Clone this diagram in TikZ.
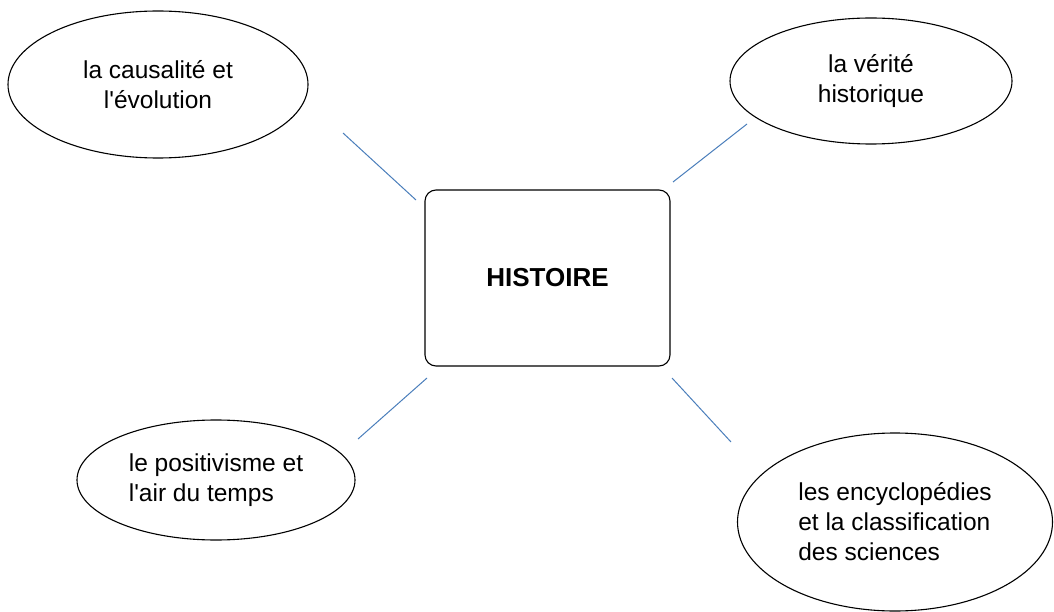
\documentclass[tikz,border=0pt]{standalone}
\usepackage{fontspec}
\setmainfont{Liberation Sans}
\usetikzlibrary{shapes.geometric}
\definecolor{lineblue}{RGB}{74,126,187}
\begin{document}
\begin{tikzpicture}[x=1pt,y=-1pt,
	bulle/.style={draw,ellipse,line width=1.1pt,inner sep=0pt,font=\fontsize{24.5}{30}\selectfont},
	lien/.style={draw=lineblue,line width=1pt}]
		\useasboundingbox (0,0) rectangle (1054,612);
		% Centre
		\node [draw, rounded corners=11pt, line width=1.1pt, minimum width=245pt, minimum height=176pt,
			font=\fontsize{26}{30}\selectfont\bfseries] (hist) at (547.5,278) {HISTOIRE};
		% Bulles
		\node [bulle, minimum width=300pt, minimum height=147pt, align=center] (caus) at (158,84.5) {la causalité et\\l\textquotesingle évolution};
		\node [bulle, minimum width=282pt, minimum height=126pt, align=center] (verite) at (871,81) {la vérité\\historique};
		\node [bulle, minimum width=278pt, minimum height=120pt, align=left] (posit) at (216,480) {le positivisme et\\l\textquotesingle air du temps};
		\node [bulle, minimum width=315pt, minimum height=178pt, align=left] (encyc) at (895,522) {les encyclopédies\\et la classification\\des sciences};
		% Liens
		\coordinate (causA) at (343,133);  \coordinate (causB) at (416,200);
		\coordinate (verA) at (673,182);   \coordinate (verB) at (747,124);
		\coordinate (posA) at (358,439);   \coordinate (posB) at (427,378);
		\coordinate (encA) at (672,378);   \coordinate (encB) at (731,442);
		\draw [lien] (causA) -- (causB);
		\draw [lien] (verA) -- (verB);
		\draw [lien] (posA) -- (posB);
		\draw [lien] (encA) -- (encB);
	\end{tikzpicture}
\end{document}
